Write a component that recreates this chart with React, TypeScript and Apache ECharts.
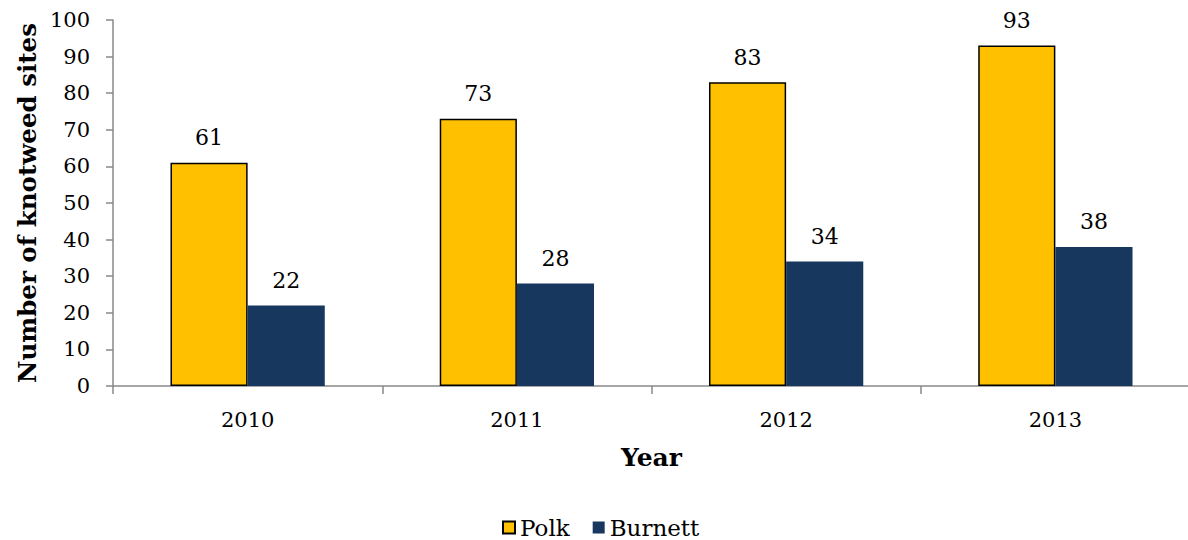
import React, { useEffect, useRef } from "react";
import * as echarts from "echarts";

const years = ["2010", "2011", "2012", "2013"];
const polk = [61, 73, 83, 93];
const burnett = [22, 28, 34, 38];
const yTicks = { min: 0, max: 100, interval: 10 };

const FONT = "'DejaVu Serif', Georgia, serif";

export default function App() {
  const ref = useRef<HTMLDivElement>(null);
  useEffect(() => {
    const chart = echarts.init(ref.current!, null, { renderer: "svg" });
    const axisColor = "#898989";
    chart.setOption({
      animation: false,
      textStyle: { fontFamily: FONT, color: "#000" },
      grid: { left: 113, top: 20, bottom: 154, width: 1077, containLabel: false, outerBoundsMode: "none" },
      legend: {
        left: 497,
        top: 511,
        itemWidth: 12,
        itemHeight: 12,
        itemGap: 23,
        icon: "rect",
        textStyle: { fontFamily: FONT, fontSize: 23, color: "#000" },
        data: ["Polk", "Burnett"],
      },
      xAxis: {
        type: "category",
        data: years,
        name: "Year",
        nameLocation: "middle",
        nameGap: 59,
        nameMoveOverlap: false,
        nameTextStyle: { fontFamily: FONT, fontSize: 25, fontWeight: "bold", color: "#000" },
        axisLine: { lineStyle: { color: axisColor, width: 1.5 } },
        axisTick: { show: true, length: 8, lineStyle: { color: axisColor, width: 1.5 } },
        axisLabel: { fontFamily: FONT, fontSize: 21, color: "#000", margin: 23 },
      },
      yAxis: {
        type: "value",
        min: yTicks.min,
        max: yTicks.max,
        interval: yTicks.interval,
        name: "Number of knotweed sites",
        nameLocation: "middle",
        nameGap: 73,
        nameMoveOverlap: false,
        nameTextStyle: { fontFamily: FONT, fontSize: 24.5, fontWeight: "bold", color: "#000" },
        axisLine: { show: true, lineStyle: { color: axisColor, width: 1.5 } },
        axisTick: { show: true, length: 7, lineStyle: { color: axisColor, width: 1.5 } },
        axisLabel: { fontFamily: FONT, fontSize: 21, color: "#000", margin: 23 },
        splitLine: { show: false },
      },
      series: [
        {
          name: "Polk",
          type: "bar",
          data: polk,
          barGap: "0%",
          barCategoryGap: "42.7%",
          itemStyle: { color: "#FFC000", borderColor: "#000", borderWidth: 1.5 },
          label: { show: true, position: "top", distance: 14, fontFamily: FONT, fontSize: 22, color: "#000" },
        },
        {
          name: "Burnett",
          type: "bar",
          data: burnett,
          itemStyle: { color: "#17375E" },
          label: { show: true, position: "top", distance: 14, fontFamily: FONT, fontSize: 22, color: "#000" },
        },
      ],
    });
    return () => chart.dispose();
  }, []);
  return <div ref={ref} style={{ width: 1188, height: 540, position: "absolute", left: 0, top: 0 }} />;
}
